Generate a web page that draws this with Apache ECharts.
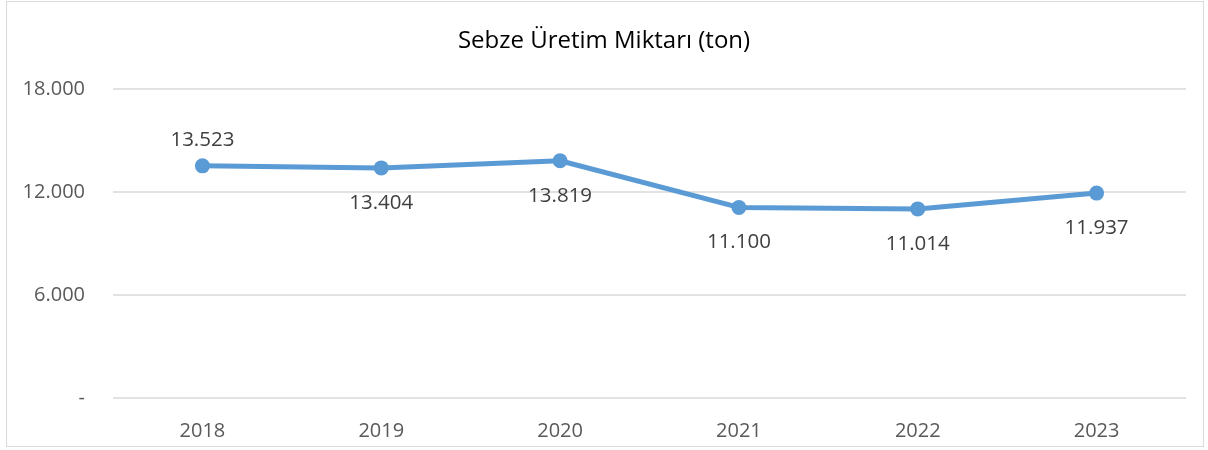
<!DOCTYPE html>
<html>
<head>
<meta charset="utf-8">
<script src="https://cdn.jsdelivr.net/npm/echarts@6/dist/echarts.min.js"></script>
<style>
html,body{margin:0;padding:0;background:#fff;}
#wrap{position:absolute;left:6px;top:1px;width:1198px;height:446px;border:1px solid #d9d9d9;box-sizing:border-box;}
#c{position:absolute;left:0;top:0;width:1208px;height:450px;}
</style>
</head>
<body>
<div id="wrap"></div>
<div id="c"></div>
<script>
const titleText = 'Sebze Üretim Miktarı (ton)';
const categories = ['2018', '2019', '2020', '2021', '2022', '2023'];
const values = [13523, 13404, 13819, 11100, 11014, 11937];
const labelAbove = [true, false, false, false, false, false];

function fmt(v) {
  if (v === 0) return '-';
  return String(Math.round(v)).replace(/\B(?=(\d{3})+(?!\d))/g, '.');
}

const chart = echarts.init(document.getElementById('c'));
const FONT = 'Open Sans';
chart.setOption({
  animation: false,
  title: {
    text: titleText,
    left: 'center',
    top: 24,
    textStyle: {fontFamily: FONT, fontSize: 24, fontWeight: 'normal', color: '#000'}
  },
  grid: {left: 113, right: 22, top: 89, bottom: 52, containLabel: false},
  xAxis: {
    type: 'category',
    data: categories,
    boundaryGap: true,
    axisLine: {show: false},
    axisTick: {show: false},
    axisLabel: {fontFamily: FONT, fontSize: 20, color: '#595959', margin: 23}
  },
  yAxis: {
    type: 'value',
    min: 0, max: 18000, interval: 6000,
    axisLine: {show: false},
    axisTick: {show: false},
    splitLine: {lineStyle: {color: '#d9d9d9', width: 1.5}},
    axisLabel: {fontFamily: FONT, fontSize: 20, color: '#595959', margin: 28, formatter: fmt}
  },
  series: [{
    type: 'line',
    data: values.map((v, i) => ({
      value: v,
      label: {position: labelAbove[i] ? 'top' : 'bottom', distance: labelAbove[i] ? 8 : 17}
    })),
    symbol: 'circle',
    symbolSize: 15,
    lineStyle: {color: '#5b9bd5', width: 5},
    itemStyle: {color: '#5b9bd5'},
    label: {
      show: true,
      fontFamily: FONT, fontSize: 20.5, color: '#404040',
      formatter: p => fmt(p.value)
    }
  }]
});
</script>
</body>
</html>
